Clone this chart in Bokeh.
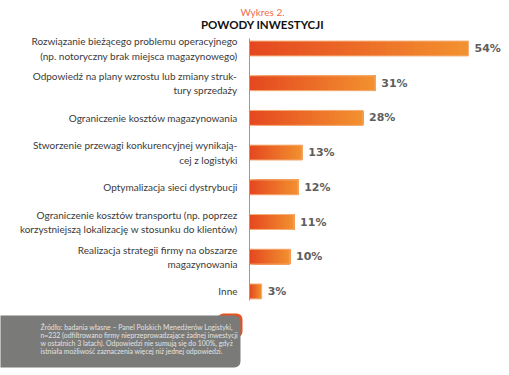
import numpy as np
from bokeh.plotting import figure
from bokeh.models import Range1d, Label, BoxAnnotation
from bokeh.core.properties import value
from bokeh.embed import file_html
from bokeh.resources import INLINE

categories = [
    "Rozwiązanie bieżącego problemu operacyjnego\n(np. notoryczny brak miejsca magazynowego)",
    "Odpowiedź na plany wzrostu lub zmiany struk-\ntury sprzedaży",
    "Ograniczenie kosztów magazynowania",
    "Stworzenie przewagi konkurencyjnej wynikają-\ncej z logistyki",
    "Optymalizacja sieci dystrybucji",
    "Ograniczenie kosztów transportu (np. poprzez\nkorzystniejszą lokalizację w stosunku do klientów)",
    "Realizacja strategii firmy na obszarze\nmagazynowania",
    "Inne",
]
values = [54, 31, 28, 13, 12, 11, 10, 3]
value_labels = ["54%", "31%", "28%", "13%", "12%", "11%", "10%", "3%"]

title_small = "Wykres 2."
title_main = "POWODY INWESTYCJI"
footnote = ("Źródło: badania własne – Panel Polskich Menedżerów Logistyki,\n"
            "n=232 (odfiltrowano firmy nieprzeprowadzające żadnej inwestycji\n"
            "w ostatnich 3 latach). Odpowiedzi nie sumują się do 100%, gdyż\n"
            "istniała możliwość zaznaczenia więcej niż jednej odpowiedzi.")

W, H = 509, 375
px_per_unit = 219 / 54.0
x0_px = 249
row_px = 34.7
top_px = 48

p = figure(width=W, height=H, output_backend="svg", toolbar_location=None,
           x_range=Range1d(-x0_px / px_per_unit, (W - x0_px) / px_per_unit),
           y_range=Range1d((H - top_px) / row_px, -top_px / row_px),
           x_axis_type=None, y_axis_type=None, min_border=0,
           outline_line_color=None)
p.grid.visible = False
p.background_fill_color = "white"
p.border_fill_color = "white"

ys = list(range(len(values)))
bh = 0.43

# gradient bars: each slice runs from its start to the bar end, later ones on top
c0 = np.array([0xE5, 0x48, 0x20])
c1 = np.array([0xF3, 0x92, 0x30])
N = 40
L, R, T, B, C = [], [], [], [], []
for k in range(N):
    t = (k + 0.5) / N
    col = (c0 * (1 - t) + c1 * t).astype(int)
    for y, v in zip(ys, values):
        L.append(v * k / N)
        R.append(v)
        T.append(y - bh / 2)
        B.append(y + bh / 2)
        C.append("#%02x%02x%02x" % tuple(col))
p.quad(left=L, right=R, top=T, bottom=B, fill_color=C, line_color=None)
p.hbar(y=ys, right=values, left=0, height=bh, fill_color=None,
       line_color="#f7b07a", line_width=1)

# axis line
p.segment(x0=[0], x1=[0], y0=[-0.29], y1=[7.26], line_color="#9a9a9a", line_width=1)

# category labels
p.text(x=[0] * len(ys), y=ys, text=categories, x_offset=-12,
       text_align="right", text_baseline="middle",
       text_font=value("Lato"), text_font_size="10px", text_color="#3a3a3a",
       text_line_height=1.2)

# value labels
p.text(x=values, y=ys, text=value_labels, x_offset=6,
       text_align="left", text_baseline="middle",
       text_font=value("DejaVu Sans"), text_font_style="bold",
       text_font_size="11px", text_color="#5e5e5e")

# titles
p.add_layout(Label(x=262, y=H - 11, x_units="screen", y_units="screen",
                   text=title_small, text_align="center", text_baseline="middle",
                   text_font="Lato", text_font_size="10px", text_color="#f26b4a"))
p.add_layout(Label(x=262, y=H - 24, x_units="screen", y_units="screen",
                   text=title_main, text_align="center", text_baseline="middle",
                   text_font="Lato", text_font_style="bold", text_font_size="11.5px",
                   text_color="#111111"))

# footnote box
p.add_layout(BoxAnnotation(left=217, right=242, top=H - 313, bottom=H - 337,
                           left_units="screen", right_units="screen",
                           top_units="screen", bottom_units="screen",
                           fill_color="#e8501f", fill_alpha=1, line_color=None,
                           border_radius=6))
p.add_layout(BoxAnnotation(left=-10, right=240, top=H - 315, bottom=H - 367,
                           left_units="screen", right_units="screen",
                           top_units="screen", bottom_units="screen",
                           fill_color="#7a7a78", fill_alpha=1, line_color=None,
                           border_radius=6))
p.add_layout(Label(x=40, y=H - 322, x_units="screen", y_units="screen",
                   text=footnote, text_align="left", text_baseline="top",
                   text_font="Lato", text_font_size="6.9px", text_color="#e2e2e2",
                   text_line_height=1.0))

open("out.html", "w").write(file_html(p, INLINE))
